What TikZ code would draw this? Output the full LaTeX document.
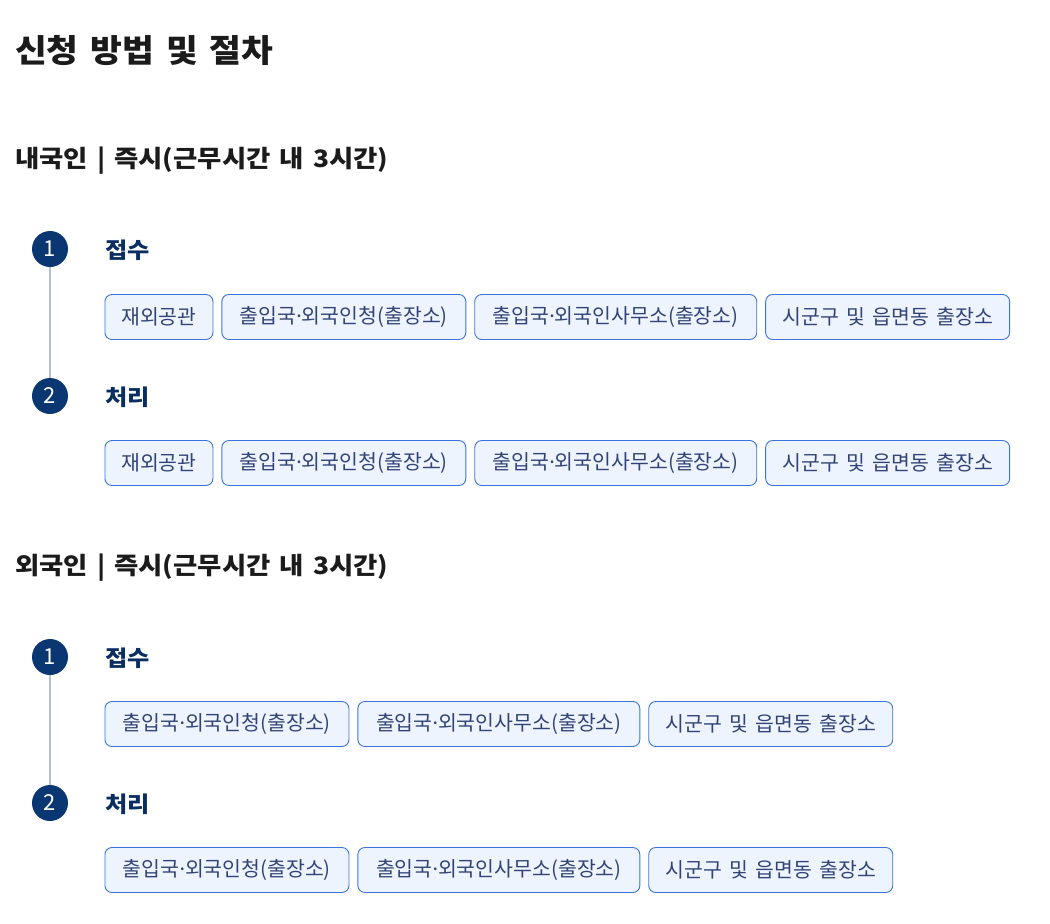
\documentclass[tikz,border=0pt]{standalone}
\usepackage{fontspec}
\setmainfont{Noto Sans CJK KR}[WordSpace=1.6]
\newfontfamily\headfont{Noto Sans CJK KR}[WordSpace=1.5, FakeStretch=1.08]
\newfontfamily\subfont{Noto Sans CJK KR}[WordSpace=1.5, FakeStretch=1.1]
\newfontfamily\dotfont{Noto Sans}
\newcommand{\mdot}{{\dotfont ·}}
\usetikzlibrary{positioning}

\definecolor{navy}{HTML}{0A3672}
\definecolor{labelnavy}{HTML}{0B2E60}
\definecolor{stepline}{HTML}{B3BFD3}
\definecolor{chipline}{HTML}{3A74DC}
\definecolor{chipfill}{HTML}{EEF4FD}
\definecolor{chiptext}{HTML}{324477}
\definecolor{headtext}{HTML}{1B1B1B}

\tikzset{
  title/.style={anchor=west, inner sep=0pt, text=headtext, font=\headfont\fontsize{32}{32}\selectfont\bfseries},
  heading/.style={anchor=west, inner sep=0pt, text=headtext, font=\subfont\fontsize{24}{24}\selectfont\bfseries},
  stepnum/.style={circle, fill=navy, text=white, minimum size=36pt, inner sep=0pt, font=\fontsize{22}{22}\selectfont},
  steplabel/.style={anchor=west, inner sep=0pt, text=labelnavy, font=\subfont\fontsize{22}{22}\selectfont\bfseries},
  chip/.style={draw=chipline, fill=chipfill, rounded corners=7pt, text=chiptext, line width=0.9pt,
    minimum height=45pt, inner xsep=0pt, font=\fontsize{20.5}{20.5}\selectfont},
  short/.style={chip, minimum width=108pt},
  mid/.style={chip, minimum width=244pt},
  long/.style={chip, minimum width=282pt},
  link/.style={draw=stepline, line width=1.5pt}
}

\begin{document}
\begin{tikzpicture}[x=1pt,y=-1pt]
  \useasboundingbox (0,0) rectangle (1050,924);
  \node[title] (title) at (15,51) {신청 방법 및 절차};

  % domestic
  \node[heading] (head1) at (15,161) {내국인 | 즉시(근무시간 내 3시간)};
  \node[stepnum] (n11) at (50,249) {1};
  \node[steplabel] (l11) at (105,250) {접수};
  \node[short, anchor=west] (a1) at (104.5,317) {재외공관};
  \node[mid, right=8pt of a1] (a2) {출입국\mdot 외국인청(출장소)};
  \node[long, right=8pt of a2] (a3) {출입국\mdot 외국인사무소(출장소)};
  \node[mid, right=8pt of a3] (a4) {시군구 및 읍면동 출장소};
  \node[stepnum] (n12) at (50,396) {2};
  \node[steplabel] (l12) at (105,397) {처리};
  \node[short, anchor=west] (b1) at (104.5,463) {재외공관};
  \node[mid, right=8pt of b1] (b2) {출입국\mdot 외국인청(출장소)};
  \node[long, right=8pt of b2] (b3) {출입국\mdot 외국인사무소(출장소)};
  \node[mid, right=8pt of b3] (b4) {시군구 및 읍면동 출장소};
  \draw[link] (n11) -- (n12);

  % foreign
  \node[heading] (head2) at (15,568) {외국인 | 즉시(근무시간 내 3시간)};
  \node[stepnum] (n21) at (50,657) {1};
  \node[steplabel] (l21) at (105,658) {접수};
  \node[mid, anchor=west] (c1) at (104.5,724) {출입국\mdot 외국인청(출장소)};
  \node[long, right=8pt of c1] (c2) {출입국\mdot 외국인사무소(출장소)};
  \node[mid, right=8pt of c2] (c3) {시군구 및 읍면동 출장소};
  \node[stepnum] (n22) at (50,803) {2};
  \node[steplabel] (l22) at (105,804) {처리};
  \node[mid, anchor=west] (d1) at (104.5,870) {출입국\mdot 외국인청(출장소)};
  \node[long, right=8pt of d1] (d2) {출입국\mdot 외국인사무소(출장소)};
  \node[mid, right=8pt of d2] (d3) {시군구 및 읍면동 출장소};
  \draw[link] (n21) -- (n22);
\end{tikzpicture}
\end{document}
